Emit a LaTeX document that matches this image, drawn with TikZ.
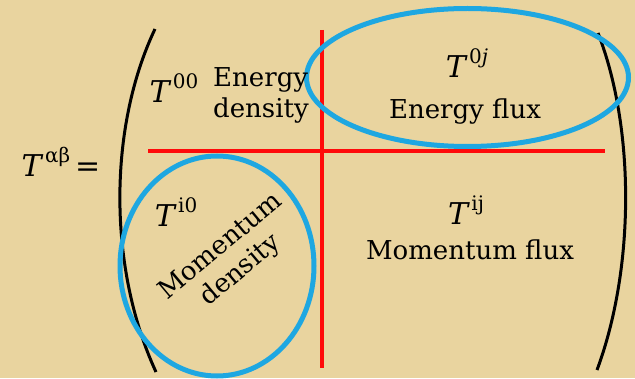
\documentclass[tikz,border=0pt]{standalone}
\usepackage{fontspec}
\setmainfont{DejaVu Serif}
\usepackage{tikz}
\definecolor{parch}{HTML}{E9D49F}
\definecolor{skyring}{HTML}{1EA7E1}
\definecolor{divred}{HTML}{FF0A0A}
\newcommand{\tsup}[1]{\textit{T}\kern1.5pt\raisebox{.45em}{\fontsize{20}{24}\selectfont #1}}
\tikzset{
  lbl/.style={font=\fontsize{26}{31}\selectfont, inner sep=0pt},
  sym/.style={font=\fontsize{30}{34}\selectfont, inner sep=0pt},
  ring/.style={draw=skyring, line width=5pt},
  divider/.style={divred, line width=3.2pt},
  paren/.style={black, line width=3pt}
}

\begin{document}
\begin{tikzpicture}[x=1pt,y=1pt]
    \fill[parch] (0,0) rectangle (635,378);
    \useasboundingbox (0,0) rectangle (635,378);
    % matrix brackets
    \draw[paren] (155,349) .. controls (108,250) and (108,110) .. (156,6);
    \draw[paren] (598,345) .. controls (635,250) and (635,110) .. (597,8);
    % block dividers
    \coordinate (hl) at (148,227);
    \coordinate (hr) at (605,227);
    \coordinate (vt) at (322,348);
    \coordinate (vb) at (322,10);
    \draw[divider] (hl)--(hr);
    \draw[divider] (vt)--(vb);
    % highlighted blocks
    \draw[ring] (467.5,300.5) ellipse [x radius=161, y radius=69];
    \draw[ring] (217,112) ellipse [x radius=97, y radius=110];
    \node[sym] (tab) at (61,216) {\tsup{αβ}\kern5pt=};
    \node[sym] (t00) at (174,290) {\tsup{00}};
    \node[lbl,align=left] (ed) at (261,283) {Energy\\density};
    \node[sym] (t0j) at (467,315) {\tsup{0\textit{j}}};
    \node[lbl] (ef) at (465,266) {Energy flux};
    \node[sym] (ti0) at (176,166) {\tsup{i0}};
    \node[lbl,align=center,rotate=40] (md) at (231,119) {Momentum\\density};
    \node[sym] (tij) at (466,168) {\tsup{ij}};
    \node[lbl] (mf) at (470,128) {Momentum flux};
  \end{tikzpicture}
\end{document}
